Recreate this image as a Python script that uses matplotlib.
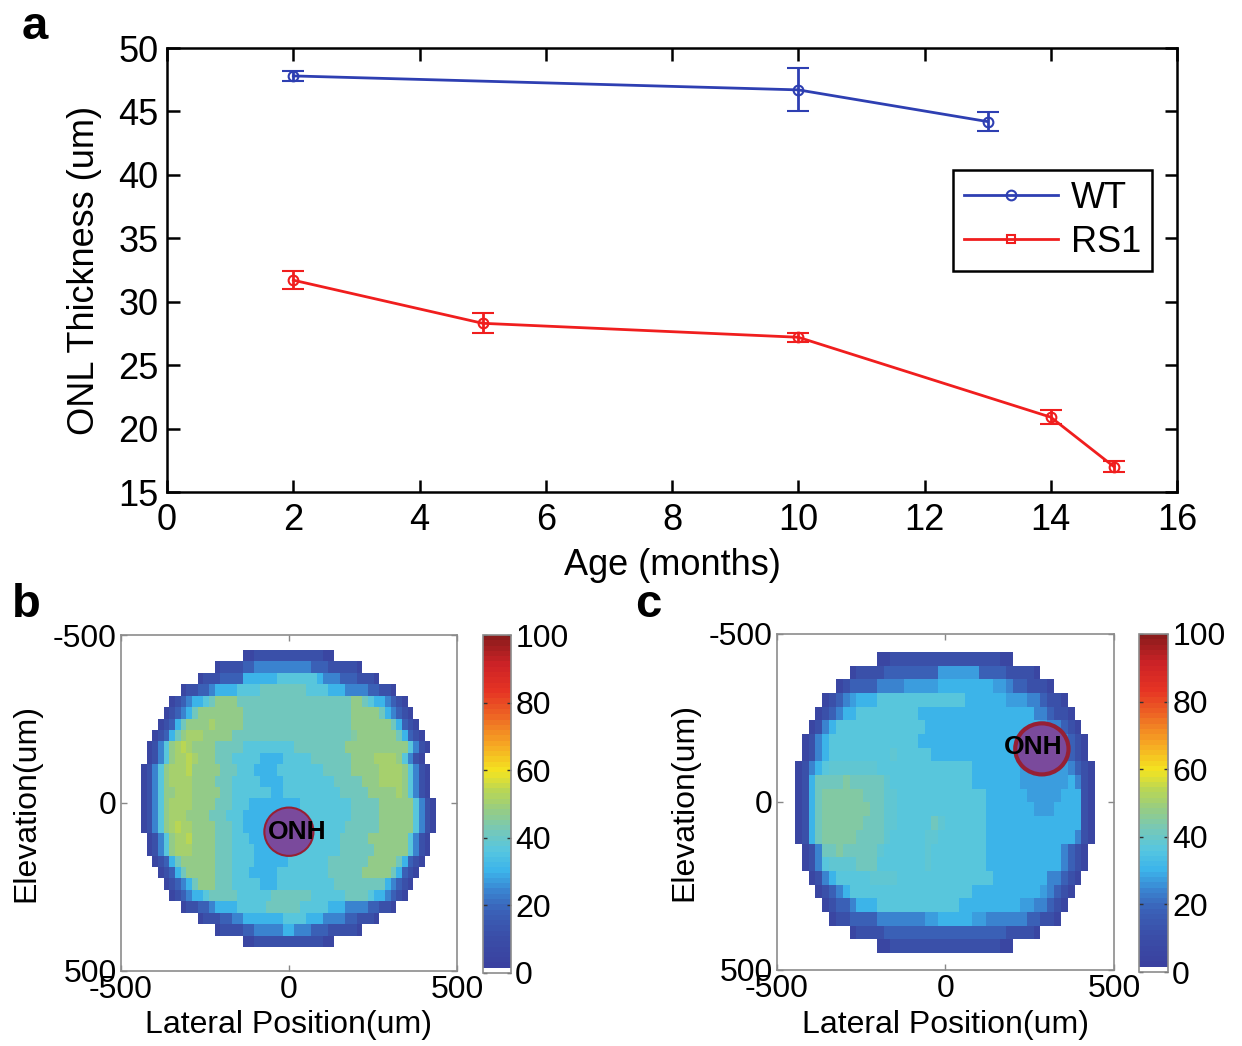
#!/usr/bin/env python3
"""ONL thickness vs age (a) and ONL thickness maps for WT (b) and RS1 (c)."""

import numpy as np
import matplotlib
matplotlib.use("Agg")
import matplotlib.pyplot as plt
from matplotlib.colors import LinearSegmentedColormap, ListedColormap
from matplotlib.lines import Line2D
from matplotlib.patches import Ellipse

plt.rcParams["font.family"] = ["Liberation Sans", "DejaVu Sans"]
plt.rcParams["axes.unicode_minus"] = False

# ── data: panel a ────────────────────────────────────────────────────
wt_age = [2, 10, 13]
wt_onl = [47.8, 46.7, 44.2]
wt_err = [0.4, 1.7, 0.75]

rs1_age = [2, 5, 10, 14, 15]
rs1_onl = [31.7, 28.3, 27.2, 20.9, 17.0]
rs1_err = [0.7, 0.8, 0.35, 0.55, 0.45]

# ── data: thickness maps ─────────────────────────────────────────────
# one character per cell: digit d -> d*6 um, letter A..I -> (n+0.5)*6 um
LEVEL_UM = 6
rows_b = [
    "1122222222222211",
    "12222334444444444333222221",
    "12223333555555666666654443332221",
    "12233455556666777777776666555444433221",
    "1234556" "7888877777777777777777777887" "6554321",
    "123457" "88888888777777777777777777788888" "754321",
    "12357" "8888H8888877777777777777777778888888" "75321",
    "12357" "8HHH88888777777777777777777777G8888888" "75321",
    "1246" "8H9H88887777766666666677777777788888888888" "6421",
    "1246" "8HH9H8887776666655556666677777778888HHHH8" "6421",
    "1246" "8HHH9888887776665555666666667777788888HHHH8" "6421",
    "1246" "8HHHH888877766666555566666666677777888HHHH8" "6421",
    "1246" "88HHH888887766666665566666666667777788888H8" "6421",
    "1246" "8HHHH888877766655555555566666666677777888888" "6421",
    "1246" "8HHH8888777666555555555566666666677777888888" "6421",
    "1246" "8H9HH888877766555555555556666666777777888888" "6421",
    "1246" "8HH988887776665555555556666666777778888888" "6421",
    "1246" "8HHH88887776666555556666666666777777888888" "6421",
    "12357" "88888877766665555556666666777777788888" "75321",
    "12357" "888887776665555566666666677777788888" "75321",
    "123457" "88877766666555666666666677777777" "754321",
    "1234556" "7777766666677777776666667777" "6554321",
    "12233455556666677777766666555444433221",
    "12223344555555566665554444332221",
    "12222334444455444333222221",
    "1122222222222211",
]

rows_c = [
    "11222222222222222211",
    "1222233333333DDDDDD333322221",
    "1233334444DDDDD55555555DD4332221",
    "1234D5556666666666666555555DDD443221",
    "1234556" "66666666" "55555555555555" "555" "443221",
    "12456" "666666666666" "555555555555" "55555" "D44321",
    "12456" "666666666666" "555555555555" "55555" "5DD44321",
    "12456" "66666666F666" "665555555555" "555DD" "DDDD4321",
    "12456" "FFFFFFF" "66666666666666" "5555555D" "DDDDDD4321",
    "1257" "777G7777" "7F666666666666" "5555555D" "DDDDDD5421",
    "1257" "GGGGGG77" "7FF66666666666" "66555555" "DDDDD55521",
    "1257" "GGGGGGG7" "7FF66666666666" "66555555" "5DDD555521",
    "1257" "GGGGGG77" "7FF666667F6666" "66555555" "5555555521",
    "1257" "GGGGG777" "7F66666FF66666" "66555555" "5555555421",
    "1247" "7G77777" "F666666F66666666" "55555555" "5554321",
    "1246" "FFFF777" "6666666F66666666" "55555555" "5554321",
    "1245" "66666FFFF" "66666666666666" "5555555" "544321",
    "12345" "666666666666666666" "55555555" "55D4321",
    "123345" "556666666666665555" "55555D" "D44321",
    "1223333" "4444444" "DD" "55555" "DD" "444444" "33221",
    "1222233333333333333333322221",
    "11222222222222222211",
]

# grid extents in um (left, right, top, bottom) and column counts
b_extent = (-440, 435, -455, 428)
c_extent = (-446, 441, -444, 449)
b_cols = 52
c_cols = 44

# optic nerve head: centre x, centre y, radius x, radius y (um)
onh_b = (0, 86, 73, 72)
onh_c = (286, -158, 79, 76)


def cell_value(ch):
    if ch.isdigit():
        return int(ch) * LEVEL_UM
    return ("ABCDEFGHI".index(ch) + 1.5) * LEVEL_UM


def build_grid(rows, ncols):
    grid = np.zeros((len(rows), ncols))
    for i, s in enumerate(rows):
        start = (ncols - len(s)) // 2
        vals = [cell_value(ch) for ch in s]
        grid[i, start:start + len(vals)] = vals[:ncols - start]
    return grid


# jet-like colour map as printed, lowest bin white (no data)
anchors = [
    (0.00, "#3a3f9e"), (0.10, "#3a4ea8"), (0.18, "#3a62b8"), (0.24, "#3a86d2"),
    (0.30, "#3cb4ea"), (0.36, "#56c6e0"), (0.42, "#76c8b8"), (0.48, "#96cc84"),
    (0.54, "#b8d656"), (0.60, "#f4e420"), (0.68, "#f6a623"), (0.76, "#ee6a24"),
    (0.84, "#e63424"), (0.92, "#cc2226"), (1.00, "#8c1c1c"),
]
base = LinearSegmentedColormap.from_list("jetlike", anchors)
cols64 = base(np.linspace(0, 1, 64))
cols64[0] = (1, 1, 1, 1)
cmap = ListedColormap(cols64)

fig = plt.figure(figsize=(12.42, 10.46), dpi=100)

# ── panel a ──────────────────────────────────────────────────────────
ax = fig.add_axes([0.1345, 0.5296, 0.8132, 0.4245])
blue = "#2e3fb2"
red = "#f01e1e"
style = dict(lw=2.0, marker="o", ms=7, mfc="none", mew=1.5, capsize=8,
             capthick=2.0, elinewidth=2.0)
ax.errorbar(wt_age, wt_onl, yerr=wt_err, color=blue, **style)
ax.errorbar(rs1_age, rs1_onl, yerr=rs1_err, color=red, **style)
ax.set_xlim(0, 16)
ax.set_ylim(15, 50)
ax.set_xticks(range(0, 17, 2))
ax.set_yticks(range(15, 51, 5))
ax.tick_params(direction="in", length=9, width=1.8, labelsize=26, top=True, right=True)
ax.tick_params(axis="y", pad=6)
ax.tick_params(axis="x", pad=8)
for sp in ax.spines.values():
    sp.set_linewidth(1.8)
ax.set_xlabel("Age (months)", fontsize=26)
ax.set_ylabel("ONL Thickness (um)", fontsize=26)
ax.xaxis.set_label_coords(0.5, -0.125)
ax.yaxis.set_label_coords(-0.064, 0.5)

handles = [
    Line2D([], [], color=blue, lw=2.0, marker="o", ms=7, mfc="none", mew=1.5),
    Line2D([], [], color=red, lw=2.0, marker="s", ms=6, mfc="none", mew=1.5),
]
leg = ax.legend(handles, ["WT", "RS1"], loc="upper right", bbox_to_anchor=(0.975, 0.725),
                borderaxespad=0, fontsize=26, handlelength=2.6, fancybox=False,
                framealpha=1, edgecolor="black", borderpad=0.3, labelspacing=0.25,
                handletextpad=0.35)
leg.get_frame().set_linewidth(1.8)


# ── panels b, c ──────────────────────────────────────────────────────
def heat_panel(ax_rect, cb_rect, rows, ncols, extent, onh, edge_lw, text_dx, text_dy,
               ylab_x):
    hax = fig.add_axes(ax_rect)
    grid = build_grid(rows, ncols)
    x0, x1, y0, y1 = extent
    im = hax.imshow(grid, cmap=cmap, vmin=0, vmax=100, extent=(x0, x1, y1, y0),
                    interpolation="nearest", aspect="auto", origin="upper")
    hax.set_xlim(-500, 500)
    hax.set_ylim(500, -500)
    hax.set_xticks([-500, 0, 500])
    hax.set_yticks([-500, 0, 500])
    hax.tick_params(direction="in", length=4, width=1, color="#888888", labelsize=23,
                    top=True, right=True)
    hax.tick_params(axis="x", pad=3)
    hax.tick_params(axis="y", pad=3)
    for sp in hax.spines.values():
        sp.set_color("#8c8c8c")
        sp.set_linewidth(1.2)
    hax.set_xlabel("Lateral Position(um)", fontsize=23)
    hax.set_ylabel("Elevation(um)", fontsize=23)
    hax.xaxis.set_label_coords(0.5, -0.118)
    hax.yaxis.set_label_coords(ylab_x, 0.5)

    cx, cy, rx, ry = onh
    hax.add_patch(Ellipse((cx, cy), 2 * rx, 2 * ry, facecolor="#7a4a9c",
                          edgecolor="#962034", lw=edge_lw, zorder=3))
    hax.text(cx + text_dx, cy + text_dy, "ONH", ha="center", va="center", fontsize=19,
             fontweight="bold", color="black", zorder=4)

    cax = fig.add_axes(cb_rect)
    cb = fig.colorbar(im, cax=cax, ticks=[0, 20, 40, 60, 80, 100])
    cb.outline.set_edgecolor("#8c8c8c")
    cb.outline.set_linewidth(1.2)
    cax.tick_params(direction="in", length=3, width=1, color="#333333", labelsize=23,
                    left=True, right=True, pad=3)
    return hax


heat_panel([0.0972, 0.0720, 0.2708, 0.3209], [0.3889, 0.0698, 0.0225, 0.3231],
           rows_b, b_cols, b_extent, onh_b, 1.5, 25, 2, -0.236)
heat_panel([0.6254, 0.0727, 0.2716, 0.3212], [0.9171, 0.0707, 0.0233, 0.3232],
           rows_c, c_cols, c_extent, onh_c, 3.0, -25, -6, -0.229)

fig.text(0.028, 0.974, "a", fontsize=34, fontweight="bold", ha="center", va="center")
fig.text(0.021, 0.422, "b", fontsize=34, fontweight="bold", ha="center", va="center")
fig.text(0.522, 0.422, "c", fontsize=34, fontweight="bold", ha="center", va="center")

fig.savefig("out.png", dpi=100, facecolor="white")
plt.close(fig)
